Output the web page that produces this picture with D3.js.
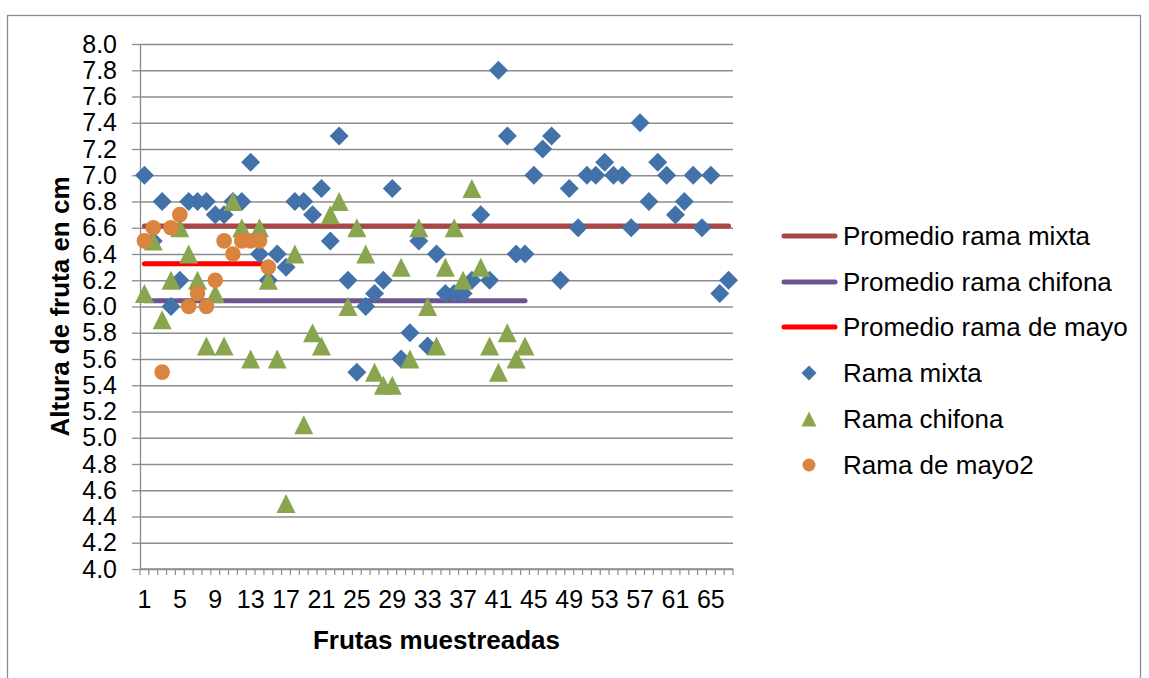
<!DOCTYPE html>
<html>
<head>
<meta charset="utf-8">
<script src="https://cdn.jsdelivr.net/npm/d3@7"></script>
<style>
  body { margin: 0; background: #ffffff; }
  text { font-family: "Liberation Sans", Arial, sans-serif; fill: #000; }
</style>
</head>
<body>
<svg id="chart" width="1149" height="678"></svg>
<script>
// Fruit heights (cm) per sampled fruit, one array per branch type
const ramaMixta = [
  7.0, 6.5, 6.8, 6.0, 6.2, 6.8, 6.8, 6.8, 6.7, 6.7,
  6.8, 6.8, 7.1, 6.4, 6.2, 6.4, 6.3, 6.8, 6.8, 6.7,
  6.9, 6.5, 7.3, 6.2, 5.5, 6.0, 6.1, 6.2, 6.9, 5.6,
  5.8, 6.5, 5.7, 6.4, 6.1, 6.1, 6.1, 6.2, 6.7, 6.2,
  7.8, 7.3, 6.4, 6.4, 7.0, 7.2, 7.3, 6.2, 6.9, 6.6,
  7.0, 7.0, 7.1, 7.0, 7.0, 6.6, 7.4, 6.8, 7.1, 7.0,
  6.7, 6.8, 7.0, 6.6, 7.0, 6.1, 6.2
];
const ramaChifona = [
  6.1, 6.5, 5.9, 6.2, 6.6, 6.4, 6.2, 5.7, 6.1, 5.7,
  6.8, 6.6, 5.6, 6.6, 6.2, 5.6, 4.5, 6.4, 5.1, 5.8,
  5.7, 6.7, 6.8, 6.0, 6.6, 6.4, 5.5, 5.4, 5.4, 6.3,
  5.6, 6.6, 6.0, 5.7, 6.3, 6.6, 6.2, 6.9, 6.3, 5.7,
  5.5, 5.8, 5.6, 5.7
];
const ramaMayo = [
  6.5, 6.6, 5.5, 6.6, 6.7, 6.0, 6.1, 6.0, 6.2, 6.5,
  6.4, 6.5, 6.5, 6.5, 6.3
];

// Category axis: fruit numbers 1..67, labelled every 4th
const categories = d3.range(1, 68);
const xTickLabels = [1, 5, 9, 13, 17, 21, 25, 29, 33, 37, 41, 45, 49, 53, 57, 61, 65];
const yTicks = d3.range(40, 81, 2).map(v => v / 10);

const legendLabels = [
  "Promedio rama mixta", "Promedio rama chifona", "Promedio rama de mayo",
  "Rama mixta", "Rama chifona", "Rama de mayo2"
];

const colors = {
  avgMixta: "#A84744",
  avgChifona: "#6C5490",
  avgMayo: "#FF0000",
  mixta: "#4372AA",
  chifona: "#89A54E",
  mayo: "#DB843D"
};

const svg = d3.select("#chart");

// chart frame
svg.append("rect")
  .attr("x", 7.5).attr("y", 15.5)
  .attr("width", 1133).attr("height", 680)
  .attr("fill", "#fff").attr("stroke", "#8c8c8c").attr("stroke-width", 1.3);

const plot = { left: 140, right: 733, top: 44, bottom: 569 };

const x = d3.scaleBand()
  .domain(categories)
  .range([plot.left, plot.right])
  .paddingInner(0).paddingOuter(0);

const y = d3.scaleLinear()
  .domain([4.0, 8.0])
  .range([plot.bottom, plot.top]);

const cx = i => x(i) + x.bandwidth() / 2;

// horizontal gridlines + left axis
const yAxis = d3.axisLeft(y)
  .tickValues(yTicks)
  .tickFormat(d3.format(".1f"))
  .tickSizeInner(-(plot.right - plot.left))
  .tickSizeOuter(0)
  .tickPadding(23);

const gy = svg.append("g")
  .attr("transform", `translate(${plot.left},0)`)
  .call(yAxis);
gy.select(".domain").attr("stroke", "#8c8c8c").attr("stroke-width", 1.3);
gy.selectAll(".tick line").attr("stroke", "#8c8c8c").attr("stroke-width", 1.3);
gy.selectAll(".tick").append("line")
  .attr("x1", -8).attr("x2", 0)
  .attr("stroke", "#8c8c8c").attr("stroke-width", 1.3);
gy.selectAll(".tick text")
  .attr("font-size", 25)
  .attr("font-family", "Liberation Sans, Arial, sans-serif")
  .attr("fill", "#000");

// category axis
const xAxis = d3.axisBottom(x)
  .tickValues(xTickLabels)
  .tickSize(0)
  .tickPadding(21);
const gx = svg.append("g")
  .attr("transform", `translate(0,${plot.bottom})`)
  .call(xAxis);
gx.select(".domain").remove();
gx.selectAll(".tick text")
  .attr("font-size", 25)
  .attr("font-family", "Liberation Sans, Arial, sans-serif")
  .attr("fill", "#000");

svg.append("line")
  .attr("x1", plot.left).attr("x2", plot.right)
  .attr("y1", plot.bottom).attr("y2", plot.bottom)
  .attr("stroke", "#8c8c8c").attr("stroke-width", 1.3);

// minor tick marks at every category boundary
const boundaries = categories.map(c => x(c)).concat([plot.right]);
svg.append("g").selectAll("line")
  .data(boundaries)
  .join("line")
  .attr("x1", d => d).attr("x2", d => d)
  .attr("y1", plot.bottom).attr("y2", plot.bottom + 6)
  .attr("stroke", "#8c8c8c").attr("stroke-width", 1.2);

// average lines, each spanning its own series
const averages = [
  { data: ramaMixta, color: colors.avgMixta },
  { data: ramaChifona, color: colors.avgChifona },
  { data: ramaMayo, color: colors.avgMayo }
];
const line = d3.line().x(d => cx(d.i)).y(d => y(d.v));
averages.forEach(a => {
  const m = d3.mean(a.data);
  const pts = a.data.map((_, k) => ({ i: categories[k], v: m }));
  svg.append("path")
    .attr("d", line(pts))
    .attr("fill", "none")
    .attr("stroke", a.color)
    .attr("stroke-width", 5)
    .attr("stroke-linecap", "round");
});

// marker shapes
const diamond = s => `M0,${-s}L${s},0L0,${s}L${-s},0Z`;
const triangle = s => `M0,${-s}L${s},${s}L${-s},${s}Z`;

svg.append("g").selectAll("path")
  .data(ramaMixta.map((v, k) => ({ i: categories[k], v })))
  .join("path")
  .attr("d", diamond(9.5))
  .attr("transform", d => `translate(${cx(d.i)},${y(d.v)})`)
  .attr("fill", colors.mixta);

svg.append("g").selectAll("path")
  .data(ramaChifona.map((v, k) => ({ i: categories[k], v })))
  .join("path")
  .attr("d", triangle(9.5))
  .attr("transform", d => `translate(${cx(d.i)},${y(d.v)})`)
  .attr("fill", colors.chifona);

svg.append("g").selectAll("circle")
  .data(ramaMayo.map((v, k) => ({ i: categories[k], v })))
  .join("circle")
  .attr("cx", d => cx(d.i))
  .attr("cy", d => y(d.v))
  .attr("r", 7.8)
  .attr("fill", colors.mayo);

// axis titles
svg.append("text")
  .attr("x", (plot.left + plot.right) / 2)
  .attr("y", 649)
  .attr("text-anchor", "middle")
  .attr("font-size", 26)
  .attr("font-weight", "bold")
  .text("Frutas muestreadas");

svg.append("text")
  .attr("transform", `translate(69,${(plot.top + plot.bottom) / 2}) rotate(-90)`)
  .attr("text-anchor", "middle")
  .attr("font-size", 26)
  .attr("font-weight", "bold")
  .text("Altura de fruta en cm");

// legend
const legendY = [236, 282, 327, 373, 419, 465];
const lg = svg.append("g");
legendLabels.forEach((label, k) => {
  const yy = legendY[k];
  if (k < 3) {
    lg.append("line")
      .attr("x1", 784).attr("x2", 835)
      .attr("y1", yy).attr("y2", yy)
      .attr("stroke", [colors.avgMixta, colors.avgChifona, colors.avgMayo][k])
      .attr("stroke-width", 5)
      .attr("stroke-linecap", "round");
  } else if (k === 3) {
    lg.append("path").attr("d", diamond(7.5))
      .attr("transform", `translate(809,${yy})`).attr("fill", colors.mixta);
  } else if (k === 4) {
    lg.append("path").attr("d", triangle(7.5))
      .attr("transform", `translate(809,${yy})`).attr("fill", colors.chifona);
  } else {
    lg.append("circle").attr("cx", 809).attr("cy", yy).attr("r", 6.5)
      .attr("fill", colors.mayo);
  }
  lg.append("text")
    .attr("x", 843).attr("y", yy)
    .attr("dy", "0.35em")
    .attr("font-size", 26)
    .text(label);
});
</script>
</body>
</html>
